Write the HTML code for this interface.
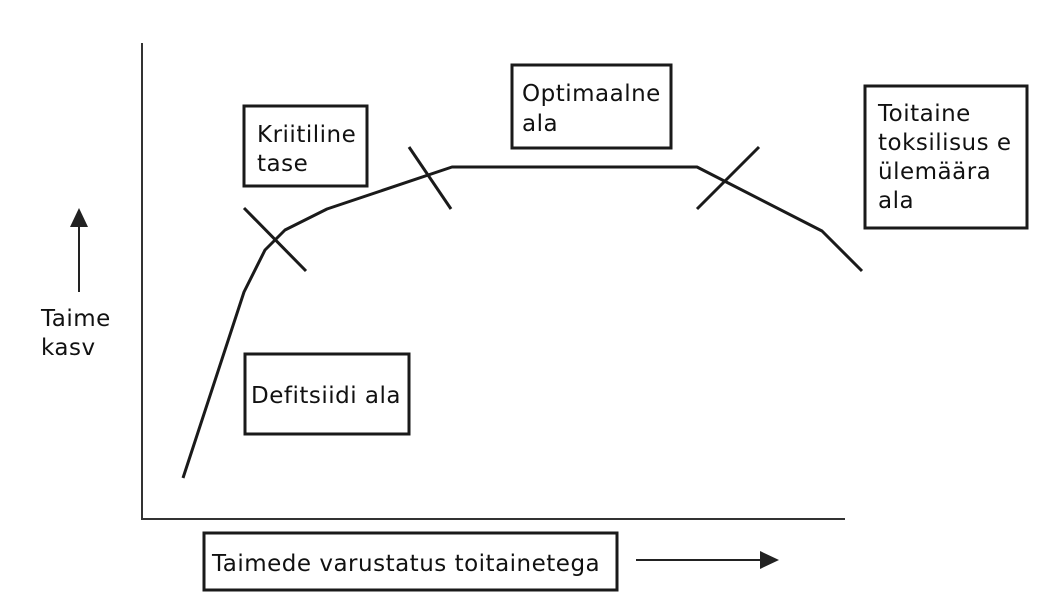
<!DOCTYPE html>
<html><head><meta charset="utf-8"><style>
body{margin:0;background:#fff;width:1060px;height:607px;overflow:hidden}
svg{display:block}
text{font-family:"DejaVu Sans","Liberation Sans",sans-serif;font-size:23px;letter-spacing:0.5px;fill:#111}
</style></head><body>
<svg width="1060" height="607" viewBox="0 0 1060 607">
<g stroke="#333" stroke-width="2" fill="none">
<line x1="142" y1="43" x2="142" y2="519"/>
<line x1="141" y1="519" x2="845" y2="519"/>
</g>
<g stroke="#1a1a1a" stroke-width="3" fill="none" stroke-linejoin="round">
<polyline points="183,478 244,292 265,250 285,230 327,209 452,167 697,167 822,231 862,271"/>
<line x1="244" y1="208" x2="306" y2="271"/>
<line x1="409" y1="147" x2="451" y2="209"/>
<line x1="697" y1="209" x2="759" y2="147"/>
</g>
<g stroke="#1a1a1a" stroke-width="3" fill="#fff">
<rect x="244" y="106" width="123" height="80"/>
<rect x="512" y="65" width="159" height="83"/>
<rect x="865" y="86" width="162" height="142"/>
<rect x="245" y="354" width="164" height="80"/>
<rect x="204" y="533" width="413" height="57"/>
</g>
<g stroke="#222" stroke-width="2">
<line x1="79" y1="292" x2="79" y2="222"/>
<line x1="636" y1="560" x2="764" y2="560"/>
</g>
<polygon points="79,208 70,227 88,227" fill="#222"/>
<polygon points="779,560 760,551 760,569" fill="#222"/>
<text x="257" y="142">Kriitiline</text>
<text x="257" y="171">tase</text>
<text x="522" y="101">Optimaalne</text>
<text x="522" y="131">ala</text>
<text x="878" y="121">Toitaine</text>
<text x="878" y="150">toksilisus e</text>
<text x="878" y="179">ülemäära</text>
<text x="878" y="208">ala</text>
<text x="251" y="403">Defitsiidi ala</text>
<text x="212" y="571">Taimede varustatus toitainetega</text>
<text x="41" y="326">Taime</text>
<text x="41" y="355">kasv</text>
</svg>
</body></html>
